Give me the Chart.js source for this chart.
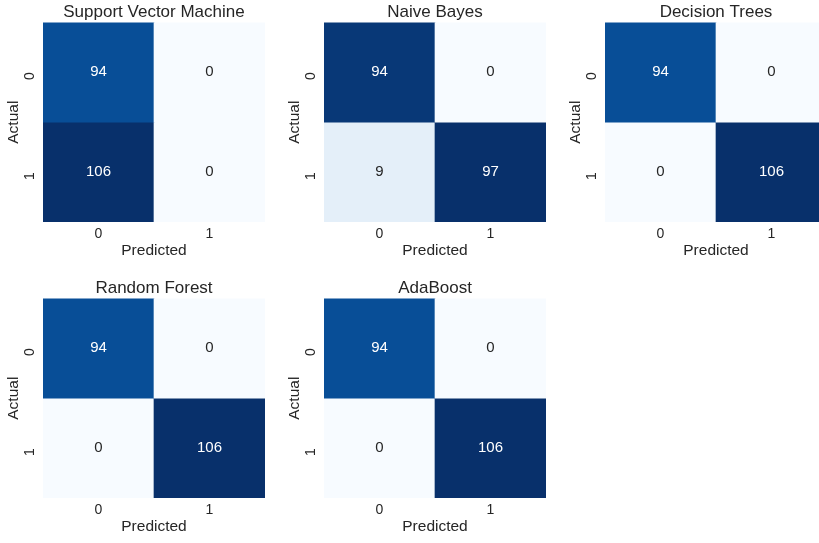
<!DOCTYPE html>
<html>
<head>
<meta charset="utf-8">
<script src="https://cdn.jsdelivr.net/npm/chart.js@4"></script>
<style>
  html, body { margin: 0; padding: 0; background: #fff; }
  body { width: 819px; height: 543px; overflow: hidden; position: relative; }
  .panel { position: absolute; width: 281px; height: 276px; }
</style>
</head>
<body>
<div class="panel" style="left:0px;top:0px"><canvas id="c0"></canvas></div>
<div class="panel" style="left:281px;top:0px"><canvas id="c1"></canvas></div>
<div class="panel" style="left:562px;top:0px"><canvas id="c2"></canvas></div>
<div class="panel" style="left:0px;top:276px"><canvas id="c3"></canvas></div>
<div class="panel" style="left:281px;top:276px"><canvas id="c4"></canvas></div>
<script>
// confusion matrices, rows = actual, columns = predicted
const classLabels = ['0', '1'];
const modelNames = ['Support Vector Machine', 'Naive Bayes', 'Decision Trees', 'Random Forest', 'AdaBoost'];
const svmMatrix = [[94, 0], [106, 0]];
const nbMatrix = [[94, 0], [9, 97]];
const dtMatrix = [[94, 0], [0, 106]];
const rfMatrix = [[94, 0], [0, 106]];
const adaMatrix = [[94, 0], [0, 106]];
const matrices = [svmMatrix, nbMatrix, dtMatrix, rfMatrix, adaMatrix];

// matplotlib "Blues" colormap stops
const blues = ['#f7fbff', '#deebf7', '#c6dbef', '#9ecae1', '#6baed6', '#4292c6', '#2171b5', '#08519c', '#08306b'];

function hexToRgb(h) {
    return [parseInt(h.slice(1, 3), 16), parseInt(h.slice(3, 5), 16), parseInt(h.slice(5, 7), 16)];
}

function bluesColor(t) {
    t = Math.max(0, Math.min(1, t));
    const pos = t * (blues.length - 1);
    const i = Math.min(Math.floor(pos), blues.length - 2);
    const f = pos - i;
    const a = hexToRgb(blues[i]), b = hexToRgb(blues[i + 1]);
    return a.map((v, k) => Math.round(v + (b[k] - v) * f));
}

function luminance(rgb) {
    const c = rgb.map(v => {
        v = v / 255;
        return v <= 0.03928 ? v / 12.92 : Math.pow((v + 0.055) / 1.055, 2.4);
    });
    return 0.2126 * c[0] + 0.7152 * c[1] + 0.0722 * c[2];
}

Chart.defaults.font.family = "'Liberation Sans', Arial, sans-serif";
Chart.defaults.color = '#262626';

const annotate = {
    id: 'annotate',
    afterDatasetsDraw(chart) {
        const ctx = chart.ctx;
        const info = chart.options.plugins.annotate;
        ctx.save();
        ctx.font = "15px 'Liberation Sans', Arial, sans-serif";
        ctx.textAlign = 'center';
        ctx.textBaseline = 'middle';
        chart.data.datasets.forEach((ds, row) => {
            chart.getDatasetMeta(row).data.forEach((bar, col) => {
                const v = info.matrix[row][col];
                ctx.fillStyle = info.textColors[row][col];
                ctx.fillText(String(v), bar.x, (bar.y + bar.base) / 2);
            });
        });
        ctx.restore();
    }
};

matrices.forEach((m, idx) => {
    const flat = m.flat();
    const vmin = Math.min(...flat), vmax = Math.max(...flat);
    const fills = m.map(r => r.map(v => bluesColor((v - vmin) / (vmax - vmin))));
    const textColors = fills.map(r => r.map(c => luminance(c) > 0.408 ? '#262626' : '#ffffff'));

    const datasets = m.map((r, row) => ({
        label: 'Actual ' + classLabels[row],
        data: r.map(() => 1),
        backgroundColor: fills[row].map(c => 'rgb(' + c.join(',') + ')'),
        borderWidth: 0,
        barPercentage: 1.0,
        categoryPercentage: 1.0
    }));

    new Chart(document.getElementById('c' + idx), {
        type: 'bar',
        data: { labels: classLabels, datasets: datasets },
        options: {
            responsive: true,
            maintainAspectRatio: false,
            animation: false,
            layout: { padding: { left: 0, right: 16, top: 0, bottom: 0 } },
            plugins: {
                legend: { display: false },
                tooltip: { enabled: false },
                title: {
                    display: true,
                    text: modelNames[idx],
                    fullSize: false,
                    color: '#262626',
                    font: { size: 17, weight: 'normal' },
                    padding: { top: 2, bottom: 0 }
                },
                annotate: { matrix: m, textColors: textColors }
            },
            scales: {
                x: {
                    stacked: true,
                    grid: { display: false, drawTicks: false },
                    border: { display: false },
                    ticks: { font: { size: 14 }, padding: 4, color: '#262626' },
                    title: { display: true, text: 'Predicted', font: { size: 15.5 }, color: '#262626', padding: { top: 0, bottom: 16 } },
                    afterFit: s => { s.height = 54; }
                },
                y: {
                    stacked: true,
                    reverse: true,
                    min: 0,
                    max: classLabels.length,
                    grid: { display: false, drawTicks: false },
                    border: { display: false },
                    afterBuildTicks: s => { s.ticks = classLabels.map((_, i) => ({ value: i + 0.5 })); },
                    ticks: {
                        font: { size: 14 },
                        color: '#262626',
                        padding: 13,
                        minRotation: 90,
                        maxRotation: 90,
                        callback: v => classLabels[Math.floor(v)]
                    },
                    title: { display: true, text: 'Actual', font: { size: 15.5 }, color: '#262626', padding: { top: 4, bottom: 0 } },
                    afterFit: s => { s.width = 43; }
                }
            }
        },
        plugins: [annotate]
    });
});
</script>
</body>
</html>
